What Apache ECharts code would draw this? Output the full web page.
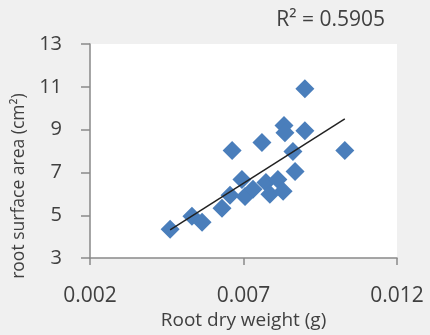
<!DOCTYPE html>
<html>
<head>
<meta charset="utf-8">
<script src="https://cdn.jsdelivr.net/npm/echarts@6/dist/echarts.min.js"></script>
<style>
  html, body { margin: 0; padding: 0; background: #f0f0f0; }
  #chart { width: 430px; height: 335px; }
</style>
</head>
<body>
<div id="chart"></div>
<script>
// root dry weight (g) vs root surface area (cm2)
var rootWeight = [0.00461, 0.00532, 0.00565, 0.00630, 0.00656, 0.00663, 0.00695,
  0.00705, 0.00731, 0.00760, 0.00773, 0.00786, 0.00812, 0.00829, 0.00832,
  0.00835, 0.00861, 0.00868, 0.00900, 0.00900, 0.01030];
var surfaceArea = [4.35, 4.95, 4.67, 5.33, 5.93, 8.02, 6.67,
  5.88, 6.21, 8.40, 6.53, 5.98, 6.67, 6.12, 9.19,
  8.86, 7.98, 7.05, 10.91, 8.95, 8.02];
var xTicks = [0.002, 0.007, 0.012];
var yTicks = [3, 5, 7, 9, 11, 13];
var r2Label = 'R² = 0.5905';

(function () {
  const chart = echarts.init(document.getElementById('chart'));
  var textColor = '#404040';
  var fontName = 'Open Sans';

  var points = rootWeight.map(function (x, i) { return [x, surfaceArea[i]]; });

  // least squares trend line over the data range
  var n = rootWeight.length;
  var mx = 0, my = 0;
  for (var i = 0; i < n; i++) { mx += rootWeight[i]; my += surfaceArea[i]; }
  mx /= n; my /= n;
  var sxy = 0, sxx = 0;
  for (var j = 0; j < n; j++) {
    sxy += (rootWeight[j] - mx) * (surfaceArea[j] - my);
    sxx += (rootWeight[j] - mx) * (rootWeight[j] - mx);
  }
  var slope = sxy / sxx;
  var xMin = Math.min.apply(null, rootWeight);
  var xMax = Math.max.apply(null, rootWeight);
  var trend = [[xMin, my + slope * (xMin - mx)], [xMax, my + slope * (xMax - mx)]];

  var option = {
    backgroundColor: '#f0f0f0',
    animation: false,
    title: {
      text: r2Label,
      right: 40,
      top: 5,
      textStyle: { color: textColor, fontSize: 21, fontWeight: 'normal', fontFamily: fontName }
    },
    grid: {
      left: 90, right: 33, top: 44, bottom: 76,
      show: true, borderWidth: 0, backgroundColor: '#ffffff'
    },
    xAxis: {
      type: 'value',
      min: xTicks[0],
      max: xTicks[xTicks.length - 1],
      name: 'Root dry weight (g)',
      nameLocation: 'middle',
      nameGap: 52,
      nameTextStyle: { color: textColor, fontSize: 19, fontFamily: fontName },
      axisLine: { show: true, lineStyle: { color: '#898989', width: 1.5 } },
      axisTick: { show: true, length: 7, customValues: xTicks, lineStyle: { color: '#898989', width: 1.5 } },
      axisLabel: {
        customValues: xTicks,
        margin: 27,
        color: textColor, fontSize: 21, fontFamily: fontName,
        formatter: function (v) { return v.toFixed(3); }
      },
      splitLine: { show: false }
    },
    yAxis: {
      type: 'value',
      min: yTicks[0],
      max: yTicks[yTicks.length - 1],
      name: 'root surface area (cm²)',
      nameLocation: 'middle',
      nameGap: 56,
      nameTextStyle: { color: textColor, fontSize: 17.5, fontFamily: fontName, padding: [0, 70, 0, 0] },
      axisLine: { show: true, lineStyle: { color: '#898989', width: 1.5 } },
      axisTick: { show: true, length: 9, customValues: yTicks, lineStyle: { color: '#898989', width: 1.5 } },
      axisLabel: {
        customValues: yTicks,
        margin: 28,
        color: textColor, fontSize: 20, fontFamily: fontName
      },
      splitLine: { show: false }
    },
    series: [{
      type: 'scatter',
      symbol: 'diamond',
      symbolSize: 19,
      itemStyle: { color: '#4a7ebb', opacity: 1 },
      data: points
    }, {
      type: 'line',
      symbol: 'none',
      lineStyle: { color: '#222222', width: 1.5 },
      data: trend
    }]
  };
  chart.setOption(option);
})();
</script>
</body>
</html>
